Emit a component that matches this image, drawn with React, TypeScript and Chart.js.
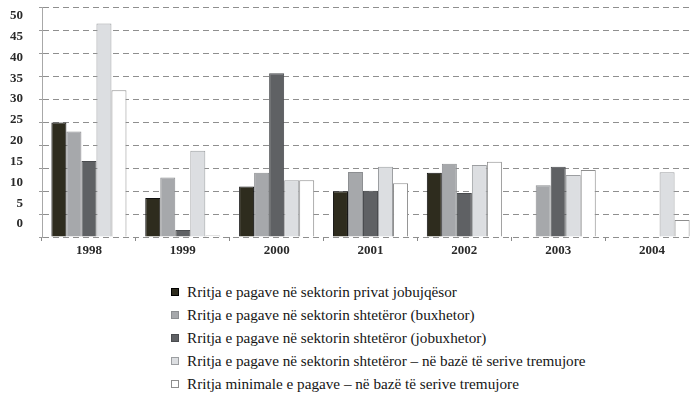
import React, { useEffect, useRef } from 'react';
import { Chart, registerables } from 'chart.js';

Chart.register(...registerables);

// Wage growth by year, in percent
const years = ['1998', '1999', '2000', '2001', '2002', '2003', '2004'];
const privateNonAgri = [25, 8.5, 11, 10, 14, null, null];
const stateBudget = [23, 13, 14, 14.2, 16, 11.3, null];
const stateNonBudget = [16.6, 1.5, 35.7, 10.1, 9.6, 15.3, null];
const stateQuarterly = [46.6, 18.8, 12.4, 15.3, 15.7, 13.5, 14.1];
const minimumWage = [32, 0.3, 12.4, 11.7, 16.4, 14.6, 3.7];

const seriesNames = [
  'Rritja e pagave në sektorin privat jobujqësor',
  'Rritja e pagave në sektorin shtetëror (buxhetor)',
  'Rritja e pagave në sektorin shtetëror (jobuxhetor)',
  'Rritja e pagave në sektorin shtetëror – në bazë të serive tremujore',
  'Rritja minimale e pagave – në bazë të serive tremujore',
];
const seriesValues = [privateNonAgri, stateBudget, stateNonBudget, stateQuarterly, minimumWage];

const yTickValues = [0, 5, 10, 15, 20, 25, 30, 35, 40, 45, 50];

const fillColors = ['#2e2c1e', '#a6a8ab', '#5f6164', '#dcdee1', '#ffffff'];
const edgeColors = ['#111111', '#8c8e91', '#4a4c4f', '#9c9ea1', '#8e8e8e'];

const SERIF = '"Liberation Serif", "Times New Roman", serif';
const GRID_DASH = [6, 4];

export default function App() {
  const canvasRef = useRef<HTMLCanvasElement>(null);

  useEffect(() => {
    if (!canvasRef.current) return;
    const chart = new Chart(canvasRef.current, {
      type: 'bar',
      data: {
        labels: years,
        datasets: seriesValues.map((vals, i) => ({
          label: seriesNames[i],
          data: vals,
          backgroundColor: fillColors[i],
          borderColor: edgeColors[i],
          borderWidth: 1,
          categoryPercentage: 0.8,
          barPercentage: 1.0,
        })),
      },
      options: {
        animation: false,
        responsive: true,
        maintainAspectRatio: false,
        layout: { padding: { top: 7, right: 11, left: 0, bottom: 0 } },
        plugins: {
          legend: { display: false },
          tooltip: { enabled: false },
        },
        scales: {
          x: {
            type: 'category',
            offset: true,
            grid: {
              display: true,
              offset: true,
              drawOnChartArea: false,
              drawTicks: true,
              tickLength: 4,
              tickColor: '#8a8a8a',
            },
            border: { display: false },
            ticks: {
              padding: 2,
              color: '#2a2a2a',
              font: { family: SERIF, size: 13, weight: 'bold' },
              maxRotation: 0,
            },
            afterFit: (s: any) => {
              s.height = 25;
            },
          },
          // value axis: carries the bars and the dashed grid
          y: {
            type: 'linear',
            position: 'left',
            weight: 0,
            min: 0,
            max: 50,
            ticks: { stepSize: 5, display: false },
            grid: {
              color: '#8f8f8f',
              lineWidth: 1,
              borderDash: GRID_DASH,
              drawTicks: true,
              tickLength: 3,
              tickColor: '#9a9a9a',
            },
            border: { display: true, color: '#a8a8a8', dash: GRID_DASH },
            afterFit: (s: any) => {
              s.width = 11;
            },
          },
          // label axis: the printed 0–50 scale sits on its own spacing
          yl: {
            type: 'linear',
            position: 'left',
            weight: 1,
            min: -3.1,
            max: 51.9,
            grid: { display: false },
            border: { display: false },
            ticks: {
              padding: 0,
              color: '#2a2a2a',
              font: { family: SERIF, size: 13, weight: 'bold' },
            },
            afterBuildTicks: (s: any) => {
              s.ticks = yTickValues.map((v) => ({ value: v }));
            },
            afterFit: (s: any) => {
              s.width = 31;
            },
          },
        },
      } as any,
    });
    return () => chart.destroy();
  }, []);

  return (
    <div
      style={{
        position: 'fixed',
        left: 0,
        top: 0,
        width: 692,
        height: 398,
        overflow: 'hidden',
        background: '#ffffff',
      }}
    >
      <div style={{ position: 'absolute', left: 0, top: 0, width: 710, height: 262 }}>
        <canvas ref={canvasRef} />
      </div>
      <div style={{ position: 'absolute', left: 171, top: 281 }}>
        {seriesNames.map((name, i) => (
          <div
            key={name}
            style={{
              height: 22.8,
              display: 'flex',
              alignItems: 'center',
              fontFamily: SERIF,
              fontSize: 15.2,
              color: '#151515',
              whiteSpace: 'nowrap',
            }}
          >
            <span
              style={{
                display: 'inline-block',
                flex: 'none',
                width: 6,
                height: 6,
                background: fillColors[i],
                border: `1px solid ${i === 0 ? '#000' : edgeColors[i]}`,
                marginRight: 8,
              }}
            />
            {name}
          </div>
        ))}
      </div>
    </div>
  );
}
